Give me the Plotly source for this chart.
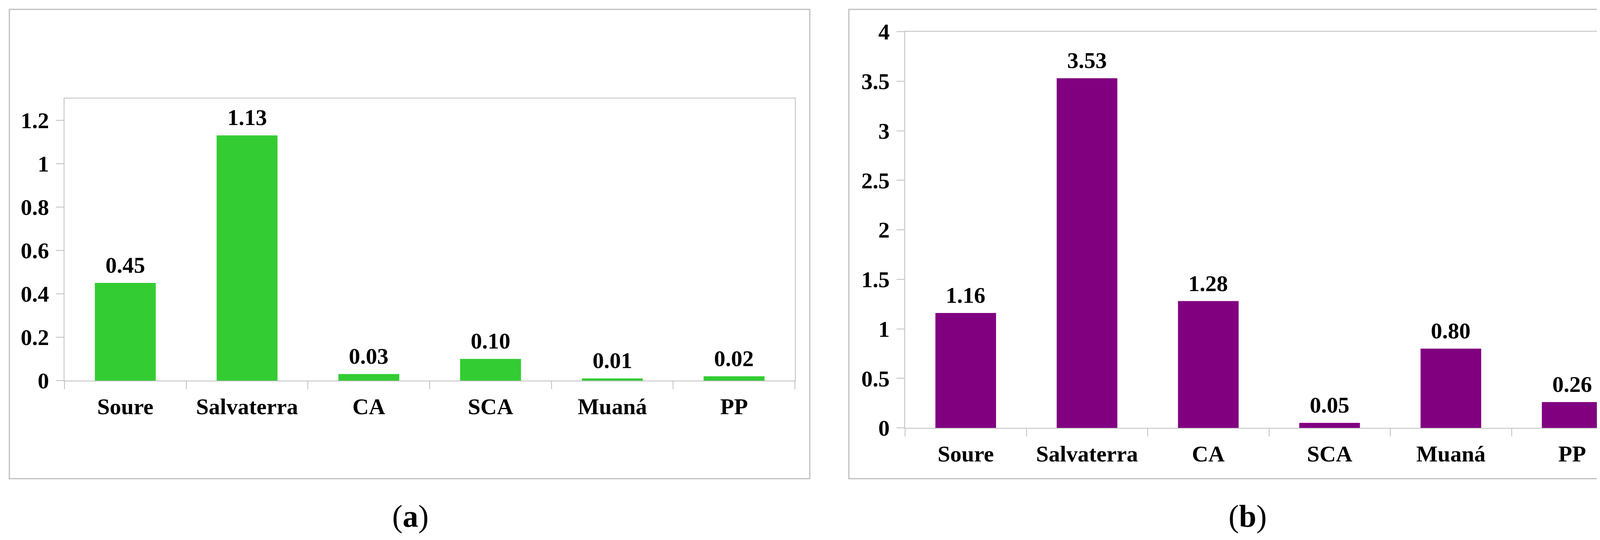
import plotly.graph_objs as go

categories = ['Soure', 'Salvaterra', 'CA', 'SCA', 'Muaná', 'PP']
values_a = [0.45, 1.13, 0.03, 0.10, 0.01, 0.02]
values_b = [1.16, 3.53, 1.28, 0.05, 0.80, 0.26]
ticks_a = [0, 0.2, 0.4, 0.6, 0.8, 1, 1.2]
ticks_b = [0, 0.5, 1, 1.5, 2, 2.5, 3, 3.5, 4]

W, H = 4248, 1382
OFF = 8  # the page body adds an 8px margin, so pull everything back by that
grey = '#bfbfbf'
font_bold = dict(family='Liberation Serif', size=58, color='black')


def px(x):
    return (x - OFF) / W


def py(y):
    return 1 - (y - OFF) / H


fig = go.Figure()
fig.add_trace(go.Bar(x=categories, y=values_a, marker=dict(color='#33cc33', line=dict(width=0)),
                     width=0.5, xaxis='x', yaxis='y'))
fig.add_trace(go.Bar(x=categories, y=values_b, marker=dict(color='#800080', line=dict(width=0)),
                     width=0.5, xaxis='x2', yaxis='y2'))

# value labels above the bars
for vals, xa, ya in [(values_a, 'x', 'y'), (values_b, 'x2', 'y2')]:
    for c, v in zip(categories, vals):
        fig.add_annotation(x=c, y=v, xref=xa, yref=ya, text='<b>%.2f</b>' % v, showarrow=False,
                           xanchor='center', yanchor='bottom', yshift=11, font=font_bold)

xstyle = dict(type='category', showline=True, linecolor=grey, linewidth=2, mirror=True,
              ticks='outside', ticklen=20, tickwidth=2, tickcolor=grey, tickson='boundaries',
              showgrid=False, tickfont=font_bold, tickmode='array', tickvals=categories,
              ticktext=['<b>%s</b>' % c for c in categories], automargin=False, ticklabelstandoff=14)
ystyle = dict(showline=True, linecolor=grey, linewidth=2, mirror=True, ticks='outside',
              ticklen=20, tickwidth=2, tickcolor=grey, showgrid=False, zeroline=False,
              tickfont=font_bold, tickmode='array', automargin=False, ticklabelstandoff=6)

fig.update_layout(
    width=W, height=H, margin=dict(l=0, r=0, t=0, b=0, pad=0, autoexpand=False),
    paper_bgcolor='white', plot_bgcolor='white', showlegend=False,
    xaxis=dict(xstyle, domain=[px(165), px(2035)], anchor='y'),
    yaxis=dict(ystyle, domain=[py(974), py(252)], range=[0, 1.3], tickvals=ticks_a,
               ticktext=['<b>%g</b>' % t for t in ticks_a], anchor='x'),
    xaxis2=dict(xstyle, domain=[px(2317), px(4180)], anchor='y2'),
    yaxis2=dict(ystyle, domain=[py(1095), py(81)], range=[0, 4], tickvals=ticks_b,
                ticktext=['<b>%g</b>' % t for t in ticks_b], anchor='x2'),
)

# outer frames round each panel
for x0, x1 in [(24, 2073), (2173, 4221)]:
    fig.add_shape(type='rect', xref='paper', yref='paper', x0=px(x0), x1=px(x1),
                  y0=py(1225), y1=py(24), line=dict(color=grey, width=3))

for label, xc in [('a', 1050), ('b', 3194)]:
    fig.add_annotation(text='(<b>%s</b>)' % label, xref='paper', yref='paper', x=px(xc), y=py(1321),
                       xanchor='center', yanchor='middle', showarrow=False,
                       font=dict(family='Liberation Serif', size=80, color='black'))

fig.write_html('out.html', config={'displayModeBar': False})
